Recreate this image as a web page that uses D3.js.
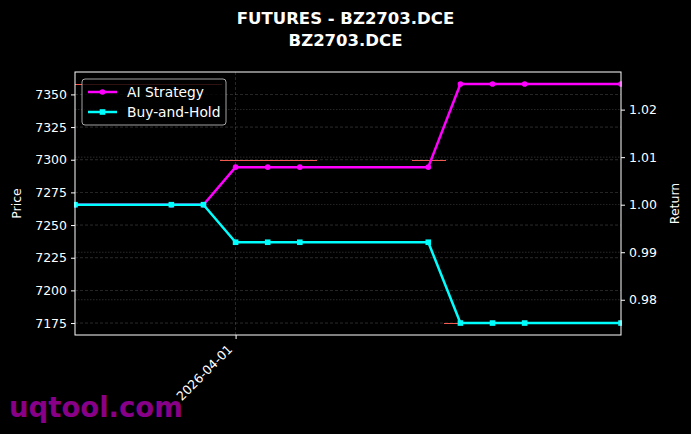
<!DOCTYPE html>
<html>
<head>
<meta charset="utf-8">
<script src="https://cdn.jsdelivr.net/npm/d3@7"></script>
<style>
  html, body { margin: 0; padding: 0; background: #000; }
  svg { display: block; font-family: 'DejaVu Sans', sans-serif; }
</style>
</head>
<body>
<div id="chart"></div>
<script>
// data
const dates = ['2026-03-27', '2026-03-30', '2026-03-31', '2026-04-01', '2026-04-02', '2026-04-03',
  '2026-04-07', '2026-04-08', '2026-04-09', '2026-04-10', '2026-04-13'];
const aiReturn = [1, 1, 1, 1.0079, 1.0079, 1.0079, 1.0079, 1.0254, 1.0254, 1.0254, 1.0254];
const bhReturn = [1, 1, 1, 0.9921, 0.9921, 0.9921, 0.9921, 0.9751, 0.9751, 0.9751, 0.9751];

// red price pieces (left axis)
const priceStart = ['2026-03-27T00:00', '2026-03-31T12:00', '2026-04-06T12:00', '2026-04-07T12:00'];
const priceEnd = ['2026-03-31T14:00', '2026-04-03T13:00', '2026-04-07T13:00', '2026-04-08T00:00'];
const priceValue = [7358, 7300, 7300, 7175];

const priceTicks = [7175, 7200, 7225, 7250, 7275, 7300, 7325, 7350];
const returnTicks = [0.98, 0.99, 1.00, 1.01, 1.02];
const dateTicks = ['2026-04-01'];

// layout
const fullWidth = 691;
const fullHeight = 434;
const margin = { top: 72, right: 70, bottom: 99, left: 75 };
const width = fullWidth - margin.left - margin.right;
const height = fullHeight - margin.top - margin.bottom;

const parse = d3.isoParse;
const svg = d3.select('#chart').append('svg')
  .attr('width', fullWidth)
  .attr('height', fullHeight);

svg.append('rect').attr('width', fullWidth).attr('height', fullHeight).attr('fill', '#000');

const g = svg.append('g').attr('transform', `translate(${margin.left},${margin.top})`);

const x = d3.scaleTime()
  .domain([parse(dates[0]), parse(dates[dates.length - 1])])
  .range([0, width]);

// matplotlib style 5% margins
function padded(lo, hi) {
  const p = (hi - lo) * 0.05;
  return [lo - p, hi + p];
}
const yPrice = d3.scaleLinear()
  .domain(padded(d3.min(priceValue), d3.max(priceValue)))
  .range([height, 0]);
const allRet = aiReturn.concat(bhReturn);
const yRet = d3.scaleLinear()
  .domain(padded(d3.min(allRet), d3.max(allRet)))
  .range([height, 0]);

// grid
const gridG = g.append('g');
gridG.selectAll('.gp').data(priceTicks).enter().append('line')
  .attr('x1', 0).attr('x2', width)
  .attr('y1', d => yPrice(d)).attr('y2', d => yPrice(d))
  .attr('stroke', '#777').attr('stroke-width', 0.6).attr('stroke-dasharray', '3,2').attr('opacity', 0.6);
gridG.selectAll('.gr').data(returnTicks).enter().append('line')
  .attr('x1', 0).attr('x2', width)
  .attr('y1', d => yRet(d)).attr('y2', d => yRet(d))
  .attr('stroke', '#777').attr('stroke-width', 0.6).attr('stroke-dasharray', '1.5,1.5').attr('opacity', 0.6);
gridG.selectAll('.gx').data(dateTicks).enter().append('line')
  .attr('x1', d => x(parse(d))).attr('x2', d => x(parse(d)))
  .attr('y1', 0).attr('y2', height)
  .attr('stroke', '#777').attr('stroke-width', 0.6).attr('stroke-dasharray', '3,2').attr('opacity', 0.6);

// price pieces
g.selectAll('.price').data(priceValue).enter().append('line')
  .attr('x1', (d, i) => x(parse(priceStart[i])))
  .attr('x2', (d, i) => x(parse(priceEnd[i])))
  .attr('y1', d => Math.round(yPrice(d)) + 0.5).attr('y2', d => Math.round(yPrice(d)) + 0.5)
  .attr('stroke', '#f05a50').attr('stroke-width', 1.2)
  .attr('shape-rendering', 'crispEdges');

// clip for lines & markers
svg.append('clipPath').attr('id', 'clip').append('rect')
  .attr('x', -1).attr('y', -1).attr('width', width + 2).attr('height', height + 2);
const plot = g.append('g').attr('clip-path', 'url(#clip)');

const line = d3.line()
  .x((d, i) => x(parse(dates[i])))
  .y(d => yRet(d));

const series = [
  { name: 'AI Strategy', values: aiReturn, color: '#ff00ff', marker: 'circle' },
  { name: 'Buy-and-Hold', values: bhReturn, color: '#00ffff', marker: 'square' }
];

series.forEach(s => {
  plot.append('path')
    .datum(s.values)
    .attr('d', line)
    .attr('fill', 'none')
    .attr('stroke', s.color)
    .attr('stroke-width', 2.5)
    .attr('stroke-linejoin', 'round');
  if (s.marker === 'circle') {
    plot.selectAll(null).data(s.values).enter().append('circle')
      .attr('cx', (d, i) => x(parse(dates[i])))
      .attr('cy', d => yRet(d))
      .attr('r', 2.8)
      .attr('fill', s.color);
  } else {
    plot.selectAll(null).data(s.values).enter().append('rect')
      .attr('x', (d, i) => x(parse(dates[i])) - 2.8)
      .attr('y', d => yRet(d) - 2.8)
      .attr('width', 5.6).attr('height', 5.6)
      .attr('fill', s.color);
  }
});

// axes
const tickFont = '12.5px';
const leftAxis = g.append('g')
  .call(d3.axisLeft(yPrice).tickValues(priceTicks).tickSize(4).tickPadding(4).tickFormat(d3.format('d')));
const rightAxis = g.append('g')
  .attr('transform', `translate(${width},0)`)
  .call(d3.axisRight(yRet).tickValues(returnTicks).tickSize(4).tickPadding(4).tickFormat(d3.format('.2f')));
const bottomAxis = g.append('g')
  .attr('transform', `translate(0,${height})`)
  .call(d3.axisBottom(x).tickValues(dateTicks.map(parse)).tickSize(4).tickFormat(d3.timeFormat('%Y-%m-%d')));

[leftAxis, rightAxis, bottomAxis].forEach(a => {
  a.select('.domain').remove();
  a.selectAll('line').attr('stroke', '#fff');
  a.selectAll('text').attr('fill', '#fff').style('font-size', tickFont).style('font-family', 'DejaVu Sans');
});

bottomAxis.selectAll('text')
  .attr('transform', 'translate(-6,12) rotate(-45)')
  .attr('dy', '0.35em')
  .attr('y', 0)
  .attr('x', 0)
  .style('text-anchor', 'end');

// frame
g.append('rect')
  .attr('width', width).attr('height', height)
  .attr('fill', 'none').attr('stroke', '#fff').attr('stroke-width', 1);

// axis labels
svg.append('text')
  .attr('transform', `translate(21,${margin.top + height / 2}) rotate(-90)`)
  .attr('text-anchor', 'middle')
  .attr('fill', '#fff').style('font-size', '12.5px')
  .text('Price');
svg.append('text')
  .attr('transform', `translate(679,${margin.top + height / 2}) rotate(-90)`)
  .attr('text-anchor', 'middle')
  .attr('fill', '#fff').style('font-size', '12.5px')
  .text('Return');

// title
svg.append('text')
  .attr('x', fullWidth / 2).attr('y', 24)
  .attr('text-anchor', 'middle').attr('fill', '#fff')
  .style('font-size', '16.5px').style('font-weight', 'bold')
  .text('FUTURES - BZ2703.DCE');
svg.append('text')
  .attr('x', fullWidth / 2).attr('y', 45.5)
  .attr('text-anchor', 'middle').attr('fill', '#fff')
  .style('font-size', '16.5px').style('font-weight', 'bold')
  .text('BZ2703.DCE');

// legend
const legend = g.append('g').attr('transform', 'translate(7,7)');
legend.append('rect')
  .attr('width', 144).attr('height', 46)
  .attr('rx', 3)
  .attr('fill', '#000').attr('fill-opacity', 0.8)
  .attr('stroke', '#cccccc').attr('stroke-opacity', 0.8).attr('stroke-width', 1);
series.forEach((s, i) => {
  const ly = 13 + i * 20;
  legend.append('line')
    .attr('x1', 6).attr('x2', 35).attr('y1', ly).attr('y2', ly)
    .attr('stroke', s.color).attr('stroke-width', 2.5);
  if (s.marker === 'circle') {
    legend.append('circle').attr('cx', 20.5).attr('cy', ly).attr('r', 2.8).attr('fill', s.color);
  } else {
    legend.append('rect').attr('x', 17.7).attr('y', ly - 2.8).attr('width', 5.6).attr('height', 5.6).attr('fill', s.color);
  }
  legend.append('text')
    .attr('x', 45).attr('y', ly).attr('dy', '0.35em')
    .attr('fill', '#fff').style('font-size', '13.8px')
    .text(s.name);
});

// watermark
svg.append('text')
  .attr('x', 9).attr('y', 417)
  .attr('fill', '#880088')
  .style('font-size', '27.5px').style('font-weight', 'bold')
  .text('uqtool.com');
</script>
</body>
</html>
